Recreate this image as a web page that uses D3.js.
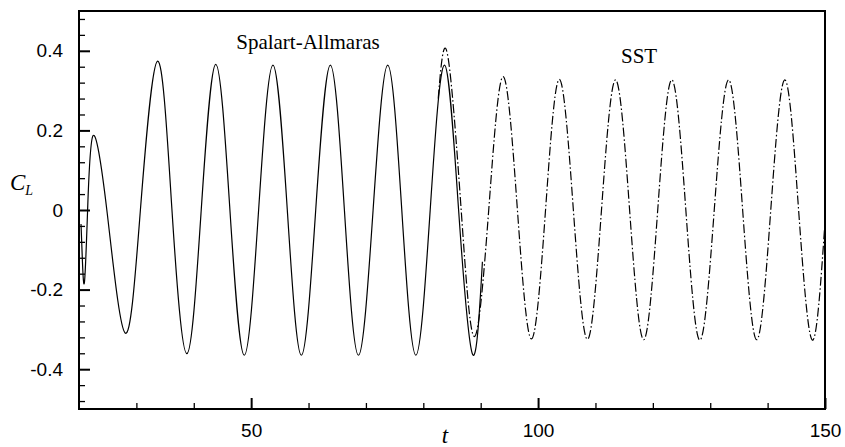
<!DOCTYPE html>
<html>
<head>
<meta charset="utf-8">
<script src="https://cdn.jsdelivr.net/npm/d3@7"></script>
<style>
  body { margin: 0; background: #fff; }
  svg { display: block; }
</style>
</head>
<body>
<svg id="chart" width="845" height="447"></svg>
<script>
// Spalart-Allmaras run (solid)
const saT = [20.35, 20.6, 20.96, 21.5, 22.45, 24.85, 28.04, 30.7, 33.7, 36.2, 38.8, 41.3, 43.83, 46.3, 48.8, 51.3, 53.8, 56.3, 58.75, 61.25, 63.8, 66.25, 68.7, 71.25, 73.8, 76.25, 78.7, 81.2, 83.7, 86.15, 88.6, 90.3]
const saCL = [-0.035, -0.13, -0.18, 0.0, 0.187, 0.0, -0.309, 0.0, 0.374, 0.0, -0.361, 0.0, 0.366, 0.0, -0.365, 0.0, 0.364, 0.0, -0.365, 0.0, 0.364, 0.0, -0.365, 0.0, 0.364, 0.0, -0.365, 0.0, 0.364, 0.0, -0.363, -0.13]

// SST run (dash-dot), restarted from the SA solution
const sstT = [82.6, 84.2, 86.6, 88.9, 91.4, 93.9, 96.4, 98.85, 101.3, 103.7, 106.15, 108.6, 111.05, 113.5, 115.95, 118.4, 120.85, 123.3, 125.75, 128.2, 130.7, 133.2, 135.65, 138.1, 140.55, 143.0, 145.4, 147.8, 150]
const sstCL = [0.28, 0.392, 0.0, -0.318, 0.0, 0.335, 0.0, -0.324, 0.0, 0.328, 0.0, -0.325, 0.0, 0.327, 0.0, -0.326, 0.0, 0.327, 0.0, -0.327, 0.0, 0.327, 0.0, -0.326, 0.0, 0.327, 0.0, -0.327, -0.03]

const xTicks = [50, 100, 150]
const xTickLabels = ['50', '100', '150']
const yTicks = [-0.4, -0.2, 0, 0.2, 0.4]
const yTickLabels = ['-0.4', '-0.2', '0', '0.2', '0.4']

const margin = { left: 79, top: 11, right: 20, bottom: 38 }
const width = 845 - margin.left - margin.right
const height = 447 - margin.top - margin.bottom

const svg = d3.select('#chart')
const g = svg.append('g').attr('transform', `translate(${margin.left},${margin.top})`)

const x = d3.scaleLinear().domain([20, 150]).range([0, width])
const y = d3.scaleLinear().domain([-0.5, 0.5]).range([height, 0])

// minor ticks
const xMinor = d3.range(30, 150, 10).filter(d => xTicks.indexOf(d) < 0)
const yMinor = d3.range(-0.48, 0.5, 0.04).filter(d => !yTicks.some(t => Math.abs(t - d) < 1e-6))

const xAxisMinor = d3.axisBottom(x).tickValues(xMinor).tickSize(-6).tickFormat('')
const yAxisMinor = d3.axisLeft(y).tickValues(yMinor).tickSize(-6).tickFormat('')

const xAxis = d3.axisBottom(x)
  .tickValues(xTicks)
  .tickSize(-11)
  .tickPadding(15)
  .tickFormat((d, i) => xTickLabels[i])
const yAxis = d3.axisLeft(y)
  .tickValues(yTicks)
  .tickSize(-11)
  .tickPadding(16)
  .tickFormat((d, i) => yTickLabels[i])

g.append('g').attr('class', 'axis').attr('transform', `translate(0,${height})`).call(xAxisMinor)
g.append('g').attr('class', 'axis').call(yAxisMinor)
g.append('g').attr('class', 'axis major').attr('transform', `translate(0,${height})`).call(xAxis)
g.append('g').attr('class', 'axis major').call(yAxis)

g.selectAll('.axis .domain').remove()
g.selectAll('.axis line').attr('stroke', '#000').attr('stroke-width', 1.3)
g.selectAll('.axis.major line').attr('stroke-width', 2)
g.selectAll('.axis text')
  .attr('font-family', 'Arial, "Liberation Sans", sans-serif')
  .attr('font-size', 19)
  .attr('fill', '#000')

// curves
const line = d3.line()
  .x(d => x(d[0]))
  .y(d => y(d[1]))
  .curve(d3.curveNatural)

const clip = g.append('clipPath').attr('id', 'plotclip')
clip.append('rect').attr('width', width).attr('height', height)

g.append('path')
  .datum(d3.zip(saT, saCL))
  .attr('d', line)
  .attr('clip-path', 'url(#plotclip)')
  .attr('fill', 'none')
  .attr('stroke', '#000')
  .attr('stroke-width', 1.2)

g.append('path')
  .datum(d3.zip(sstT, sstCL))
  .attr('d', line)
  .attr('clip-path', 'url(#plotclip)')
  .attr('fill', 'none')
  .attr('stroke', '#000')
  .attr('stroke-width', 1.2)
  .attr('stroke-dasharray', '9,2.5,1.5,2.5')

// frame
g.append('rect')
  .attr('width', width)
  .attr('height', height)
  .attr('fill', 'none')
  .attr('stroke', '#000')
  .attr('stroke-width', 2)

// labels
const serif = '"Times New Roman", "Liberation Serif", serif'

g.append('text')
  .attr('x', x(47.4))
  .attr('y', y(0.405))
  .attr('font-family', serif)
  .attr('font-size', 21)
  .text('Spalart-Allmaras')

g.append('text')
  .attr('x', x(117.6))
  .attr('y', y(0.37))
  .attr('text-anchor', 'middle')
  .attr('font-family', serif)
  .attr('font-size', 21)
  .text('SST')

const cl = svg.append('text')
  .attr('x', 10)
  .attr('y', 190)
  .attr('font-family', serif)
  .attr('font-style', 'italic')
  .attr('font-size', 23)
cl.append('tspan').text('C')
cl.append('tspan').attr('dy', 5).attr('font-size', 14).text('L')

svg.append('text')
  .attr('x', 445)
  .attr('y', 443)
  .attr('text-anchor', 'middle')
  .attr('font-family', serif)
  .attr('font-style', 'italic')
  .attr('font-size', 23)
  .text('t')
</script>
</body>
</html>
